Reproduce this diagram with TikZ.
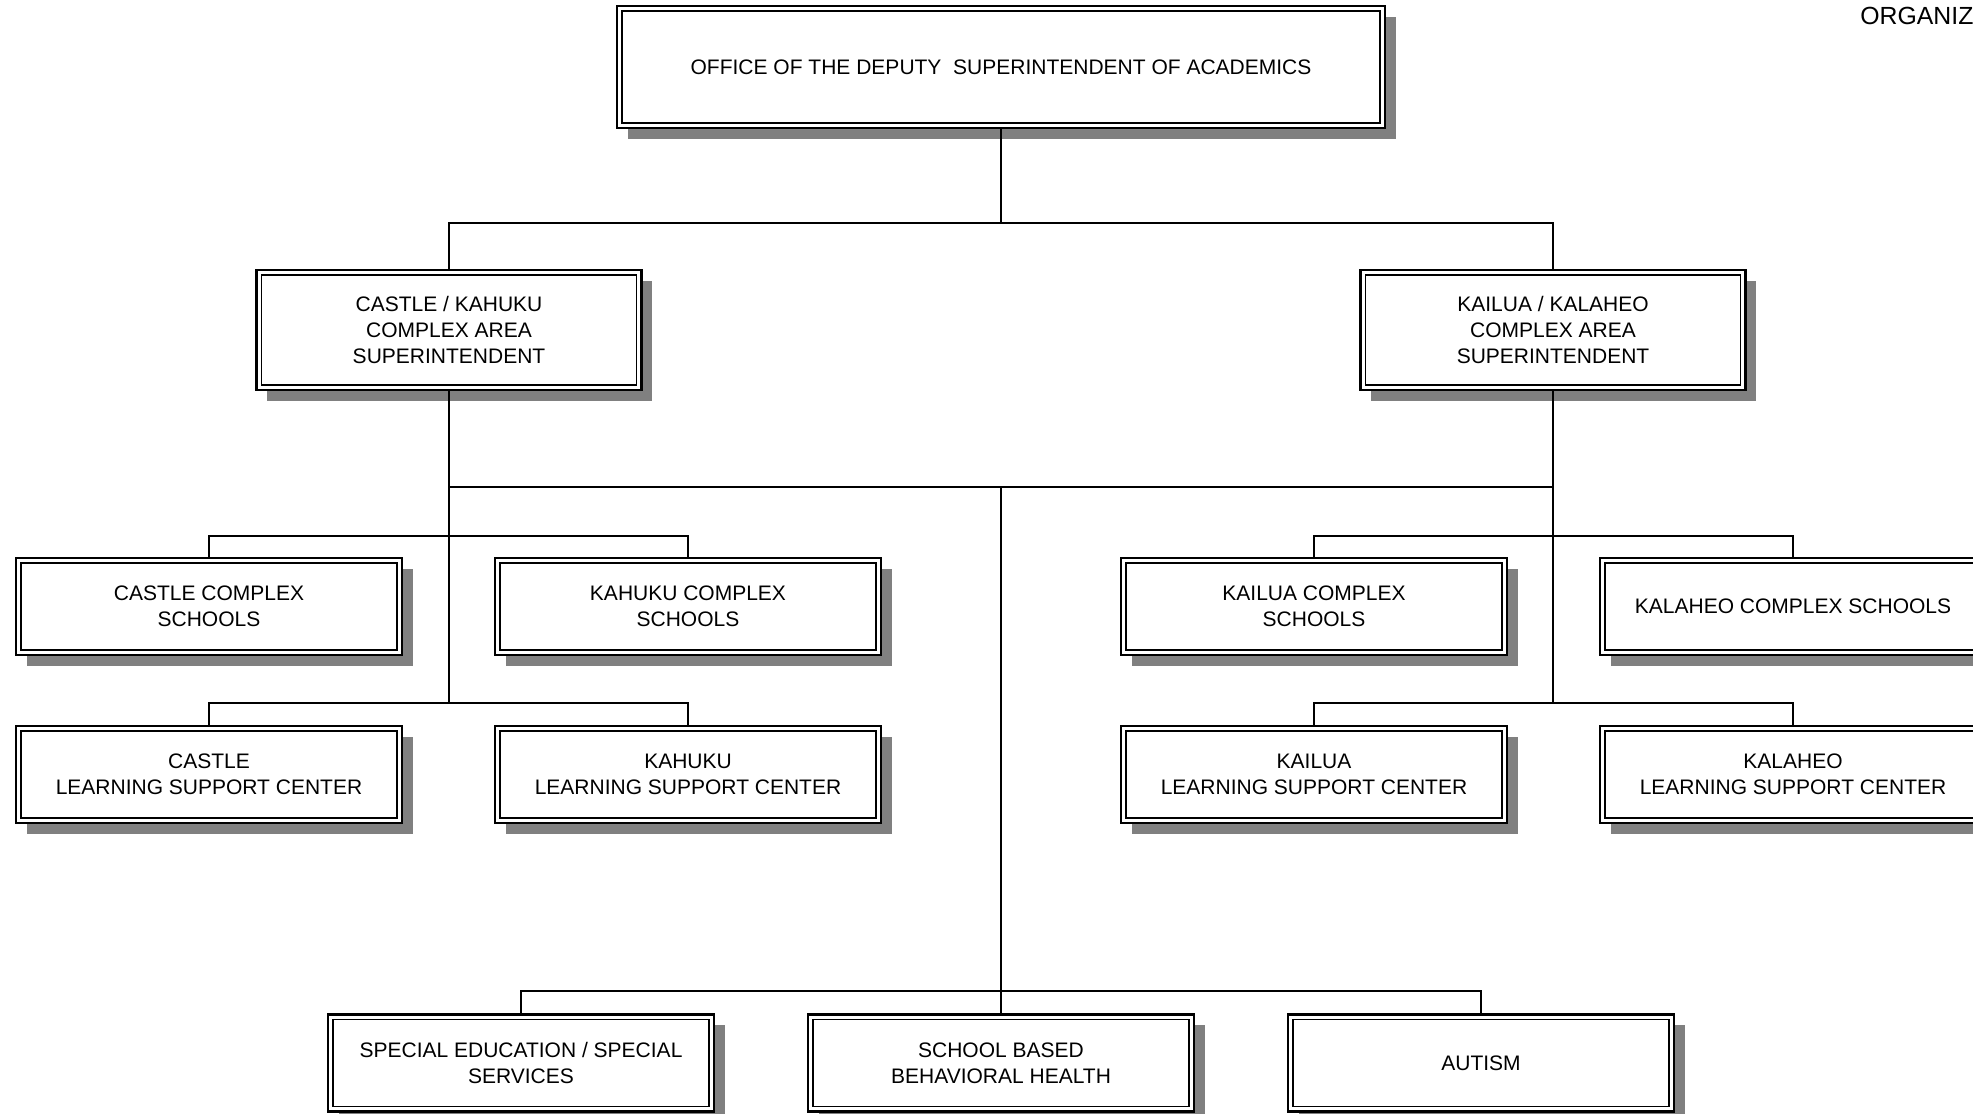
\documentclass[tikz,border=0pt]{standalone}
\usepackage{fontspec}
\setmainfont{Liberation Sans}
\usetikzlibrary{shadows}
\begin{document}
\begin{tikzpicture}[x=0.5pt,y=-0.5pt,
  unit/.style={draw,fill=white,line width=1.4pt,align=center,inner sep=0pt,
    minimum width=193pt,minimum height=48.5pt,font=\fontsize{10.5}{13}\selectfont,
    drop shadow={shadow xshift=5.3pt,shadow yshift=-5.3pt,fill=black!50,opacity=1},
    path picture={\draw[line width=0.7pt]([shift={(2.5pt,-2.5pt)}]path picture bounding box.north west)
      rectangle ([shift={(-2.5pt,2.5pt)}]path picture bounding box.south east);}},
  head/.style={unit,minimum width=384pt,minimum height=61pt},
  area/.style={unit,minimum width=192.5pt,minimum height=60pt},
  link/.style={line width=1pt}]
\useasboundingbox (0,0) rectangle (1973,1113);
\node[anchor=north west,inner sep=0pt,font=\fontsize{12.4}{14}\selectfont] (title) at (1860,7) {ORGANIZ};
\node[head] (top) at (1001,67) {OFFICE OF THE DEPUTY \ SUPERINTENDENT OF ACADEMICS};
\node[area] (casL) at (449,330) {CASTLE / KAHUKU\\COMPLEX AREA\\SUPERINTENDENT};
\node[area] (casR) at (1553,330) {KAILUA / KALAHEO\\COMPLEX AREA\\SUPERINTENDENT};
\node[unit] (castleS) at (209,606.5) {CASTLE COMPLEX\\SCHOOLS};
\node[unit] (kahukuS) at (688,606.5) {KAHUKU COMPLEX\\SCHOOLS};
\node[unit] (kailuaS) at (1314,606.5) {KAILUA COMPLEX\\SCHOOLS};
\node[unit] (kalaheoS) at (1793,606.5) {KALAHEO COMPLEX SCHOOLS};
\node[unit] (castleL) at (209,774.5) {CASTLE\\LEARNING SUPPORT CENTER};
\node[unit] (kahukuL) at (688,774.5) {KAHUKU\\LEARNING SUPPORT CENTER};
\node[unit] (kailuaL) at (1314,774.5) {KAILUA\\LEARNING SUPPORT CENTER};
\node[unit] (kalaheoL) at (1793,774.5) {KALAHEO\\LEARNING SUPPORT CENTER};
\node[unit] (sped) at (521,1063) {SPECIAL EDUCATION / SPECIAL\\SERVICES};
\node[unit] (sbbh) at (1001,1063) {SCHOOL BASED\\BEHAVIORAL HEALTH};
\node[unit] (autism) at (1481,1063) {AUTISM};
\coordinate (hub) at (1001,223);
\coordinate (midL) at (449,487);
\coordinate (midR) at (1553,487);
\coordinate (mid) at (1001,487);
\coordinate (lowbus) at (1001,991);
\coordinate (leftA) at (449,536);
\coordinate (leftB) at (449,703);
\coordinate (rightA) at (1553,536);
\coordinate (rightB) at (1553,703);
\draw[link] (top.south)--(hub);
\draw[link] (casL.north)|-(hub)-|(casR.north);
\draw[link] (casL.south)--(leftB);
\draw[link] (casR.south)--(rightB);
\draw[link] (midL)--(midR);
\draw[link] (mid)--(lowbus);
\draw[link] (castleS.north)|-(leftA)-|(kahukuS.north);
\draw[link] (castleL.north)|-(leftB)-|(kahukuL.north);
\draw[link] (kailuaS.north)|-(rightA)-|(kalaheoS.north);
\draw[link] (kailuaL.north)|-(rightB)-|(kalaheoL.north);
\draw[link] (sped.north)|-(lowbus)-|(autism.north);
\draw[link] (lowbus)--(sbbh.north);
\end{tikzpicture}
\end{document}
